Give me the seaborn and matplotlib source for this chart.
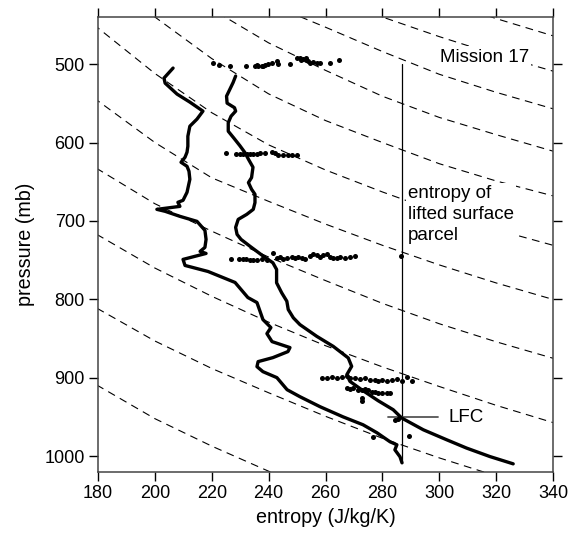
import matplotlib
matplotlib.use("Agg")
import matplotlib.pyplot as plt
import seaborn as sns
import numpy as np

# ---------------- data ----------------
# environmental moist entropy profile (J/kg/K) vs pressure (mb)
env_s = [206.4, 203.2, 203.6, 207.8, 212.3, 216.9, 214.8, 212.3, 211.6, 211.6, 211.3, 210.6,
         209.2, 211.3, 212.0, 212.3, 211.3, 209.9, 208.1, 208.8, 200.7, 203.6, 208.8, 214.8,
         217.6, 218.0, 217.6, 215.9, 218.0, 209.9, 210.6, 218.7, 228.2, 232.7, 235.9, 238.0,
         240.8, 239.4, 241.2, 247.5, 246.8, 241.5, 236.3, 235.9, 238.0, 242.9, 246.5, 251.0,
         258.1, 266.1, 273.2, 278.1, 282.7, 285.1, 284.4, 286.2, 286.9]
env_p = [505.1, 517.9, 524.3, 538.3, 548.5, 560.0, 570.2, 579.2, 592.0, 604.7, 612.4, 618.8,
         625.2, 630.3, 636.7, 646.9, 663.5, 673.7, 676.2, 681.4, 685.2, 687.7, 694.1, 700.5,
         712.0, 723.5, 733.7, 738.8, 741.4, 749.0, 756.7, 764.4, 778.4, 797.6, 804.0, 825.7,
         835.9, 843.6, 853.8, 861.4, 866.5, 874.2, 879.3, 885.7, 892.1, 899.7, 915.1, 924.0,
         936.8, 949.6, 959.8, 970.0, 981.5, 985.3, 991.7, 1000.6, 1008.3]

# saturated moist entropy profile
sat_s = [228.4, 227.5, 226.4, 225.2, 225.4, 228.0, 228.4, 226.8, 225.8, 225.8, 227.8, 229.9,
         231.7, 232.9, 234.5, 234.0, 232.9, 234.0, 235.2, 235.2, 234.6, 232.3, 229.3, 228.4,
         228.9, 230.3, 233.5, 238.1, 241.5, 242.8, 242.8, 244.6, 246.4, 246.9, 248.7, 251.0,
         256.9, 262.7, 268.0, 269.2, 267.5, 268.6, 272.7, 278.5, 283.8, 286.8, 294.4, 302.6,
         309.6, 317.8, 326.0]
sat_p = [515.3, 523.6, 531.9, 540.9, 549.8, 555.6, 560.0, 566.4, 574.7, 585.6, 594.5, 604.1,
         613.0, 621.3, 631.5, 644.7, 651.1, 659.6, 666.0, 676.6, 685.2, 691.6, 698.0, 708.2,
         717.1, 723.5, 732.4, 744.8, 753.3, 761.8, 778.8, 791.6, 802.3, 812.9, 823.5, 832.1,
         847.0, 859.8, 874.6, 885.3, 895.9, 904.5, 915.1, 929.1, 940.6, 951.2, 966.2, 978.9,
         989.5, 1000.3, 1009.6]

# entropy of lifted surface parcel
parcel_s = 286.8
parcel_p = [500, 1008]

# observed points (scatter)
dot_s = [220.4, 222.5, 226.3, 232.1, 235.2, 236.4, 237.6, 238.7, 239.9, 241.1, 242.8, 243.4,
         247.5, 249.9, 251.0, 252.1, 253.1, 253.9, 254.5, 255.7, 256.9, 258.1, 261.6, 264.7,
         236.0, 238.0, 251.5, 253.0,
         225.1, 228.7, 229.9, 231.1, 232.3, 233.4, 234.6, 235.8, 237.0, 238.7, 241.1, 242.2,
         243.4, 245.2, 246.9, 248.1, 249.9,
         226.6, 229.6, 231.0, 232.2, 233.4, 234.5, 235.8, 237.6, 239.3, 241.4, 242.8, 244.0,
         245.2, 246.4, 248.1, 249.3, 250.4, 251.6, 252.8, 254.5, 255.7, 256.9, 258.1, 259.2,
         260.4, 261.6, 262.7, 263.9, 265.1, 266.8, 268.6, 270.4, 286.5,
         258.7, 260.4, 262.2, 263.9, 265.7, 267.4, 268.6, 270.4, 272.1, 273.9, 275.6, 277.4,
         278.6, 279.8, 281.5, 283.3, 285.0, 286.8, 288.5, 290.3,
         267.4, 268.6, 269.8, 271.4, 272.7, 273.9, 275.0, 276.2, 277.4, 278.6, 279.8, 281.5, 282.7,
         272.7, 272.7, 284.4, 285.6, 276.8, 289.5]
dot_p = [499.1, 501.7, 502.9, 502.6, 502.6, 502.6, 501.9, 501.3, 500.4, 499.1, 496.2, 500.4,
         500.4, 492.3, 492.3, 493.0, 494.3, 496.2, 498.1, 497.1, 498.1, 498.5, 499.0, 494.3,
         501.5, 502.8, 494.5, 492.0,
         612.8, 614.3, 614.9, 614.9, 614.9, 614.3, 614.3, 614.3, 613.3, 613.0, 611.7, 613.7,
         615.3, 615.3, 616.2, 616.2, 615.6,
         748.1, 749.0, 749.0, 749.0, 749.7, 749.7, 749.7, 749.0, 749.7, 741.0, 747.8, 745.6,
         748.1, 746.9, 745.6, 746.9, 745.6, 746.9, 748.1, 744.8, 742.7, 743.9, 745.6, 743.9,
         742.7, 745.6, 746.9, 746.9, 745.6, 746.9, 745.6, 744.8, 744.8,
         900.1, 900.1, 898.5, 900.1, 898.5, 898.1, 900.1, 900.4, 901.7, 900.1, 902.9, 902.3,
         904.2, 902.3, 904.5, 902.9, 901.4, 904.2, 898.9, 904.5,
         912.9, 913.8, 912.9, 915.1, 915.1, 914.2, 915.1, 917.6, 917.6, 918.9, 918.9, 918.9, 918.9,
         925.7, 929.1, 953.4, 952.5, 975.1, 973.8]

# dashed reference curves (entropy, pressure)
ref_curves = [
    ([280, 300, 320, 340], [397, 418, 442, 464]),
    ([250, 260, 280, 300, 320, 340], [398, 412, 440, 465, 488, 509]),
    ([230, 240, 250, 260, 280, 300, 320, 340], [400, 420, 438, 453, 484, 513, 536, 557]),
    ([200, 220, 240, 260, 280, 300, 320, 340], [385, 430, 473, 508, 541, 568, 590, 611]),
    ([180, 200, 220, 240, 260, 280, 300, 320, 340], [380, 440, 493, 538, 572, 600, 627, 649, 668]),
    ([160, 180, 200, 220, 240, 260, 280, 300, 320, 340], [395, 454, 512, 562, 603, 635, 663, 689, 711, 731]),
    ([160, 180, 200, 220, 240, 260, 280, 300, 320, 340], [490, 547, 600, 645, 675, 704, 731, 756, 779, 800]),
    ([160, 180, 200, 220, 240, 260, 280, 300, 320, 340], [585, 634, 678, 713, 746, 776, 805, 831, 854, 875]),
    ([160, 180, 200, 220, 240, 260, 280, 300, 320, 340], [670, 718, 760, 796, 829, 859, 886, 911, 935, 957]),
    ([160, 180, 200, 220, 240, 260, 280, 300, 320, 340], [765, 812, 853, 888, 919, 949, 977, 1002, 1025, 1047]),
    ([160, 180, 200, 220, 240, 260], [862, 910, 952, 987, 1019, 1049]),
    ([170, 180, 200], [997, 1020, 1062]),
]

x_ticks = [180, 200, 220, 240, 260, 280, 300, 320, 340]
y_ticks = [500, 600, 700, 800, 900, 1000]

# ---------------- plot ----------------
sns.set_theme(style="ticks")
plt.rcParams["font.family"] = ["Liberation Sans", "DejaVu Sans"]
plt.rcParams["text.color"] = "black"
plt.rcParams["axes.labelcolor"] = "black"
plt.rcParams["xtick.color"] = "black"
plt.rcParams["ytick.color"] = "black"

fig = plt.figure(figsize=(5.69, 5.36), dpi=100)
ax = fig.add_axes([98 / 569, 1 - 472 / 536, (553 - 98) / 569, (472 - 17) / 536])

for cs, cp in ref_curves:
    ax.plot(cs, cp, color="black", lw=0.8, dashes=(7, 5), zorder=1)

sns.lineplot(x=env_s, y=env_p, sort=False, estimator=None, color="black", lw=2.4, ax=ax, zorder=3)
sns.lineplot(x=sat_s, y=sat_p, sort=False, estimator=None, color="black", lw=2.4, ax=ax, zorder=3)
ax.plot([parcel_s, parcel_s], parcel_p, color="black", lw=0.9, zorder=2)
sns.scatterplot(x=dot_s, y=dot_p, s=13, color="black", linewidth=0, ax=ax, zorder=4)

box = dict(facecolor="white", edgecolor="none", pad=1.5)
ax.plot([282.1, 299.7], [950, 950], color="#555555", lw=1.3, zorder=2)
ax.text(303.2, 950, "LFC", ha="left", va="center", fontsize=13.5, zorder=5)
ax.text(300.3, 491, "Mission 17", ha="left", va="center", fontsize=13.5, bbox=box, zorder=5)
ax.text(289.1, 691.6, "entropy of\nlifted surface\nparcel", ha="left", va="center",
        fontsize=13.5, linespacing=1.3, bbox=box, zorder=5)

ax.set_xlim(180, 340)
ax.set_ylim(1020, 440)
ax.set_xticks(x_ticks)
ax.set_yticks(y_ticks)
ax.tick_params(direction="out", length=6.5, width=1.0, top=True, right=True,
               labeltop=False, labelright=False, labelsize=13, color="black",
               labelcolor="black", pad=3)
for sp in ax.spines.values():
    sp.set_visible(True)
    sp.set_color("#444444")
    sp.set_linewidth(1.1)

ax.set_xlabel("entropy (J/kg/K)", fontsize=14.2, labelpad=4)
ax.set_ylabel("pressure (mb)", fontsize=14.2, labelpad=7)

fig.savefig("out.png", dpi=100)
